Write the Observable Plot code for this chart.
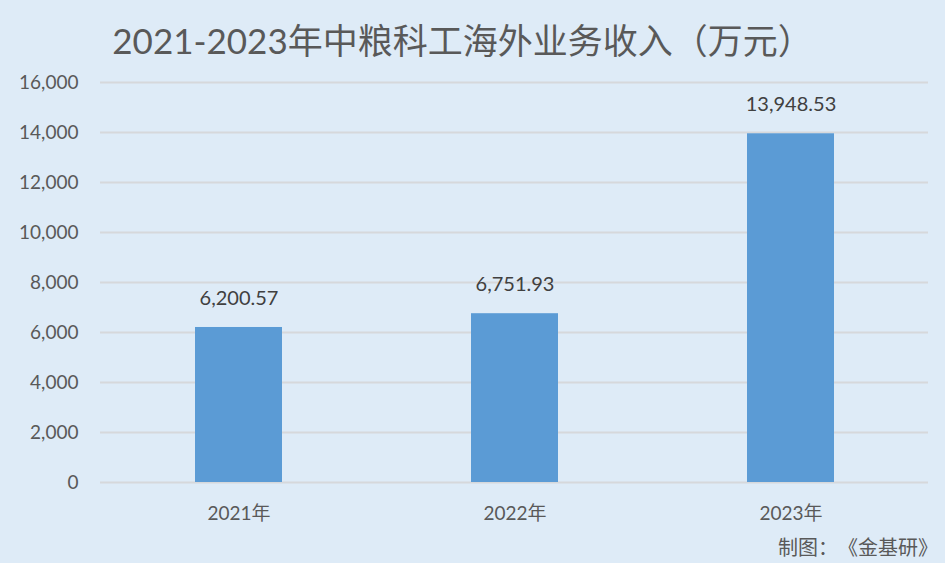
<!DOCTYPE html>
<html>
<head>
<meta charset="utf-8">
<script src="https://cdn.jsdelivr.net/npm/d3@7"></script>
<script src="https://cdn.jsdelivr.net/npm/@observablehq/plot@0.6"></script>
<style>
  html, body { margin: 0; padding: 0; background: #deebf7; }
  #chart {
    position: relative; width: 945px; height: 563px; background: #deebf7;
    font-family: Lato, "Noto Sans CJK SC", sans-serif; overflow: hidden;
    text-spacing-trim: space-all;
  }
  #title {
    height: 70px; line-height: 80px; text-align: center; padding-right: 20px;
    font-size: 35px; color: #595959; white-space: nowrap;
  }
  #plot { height: 460px; }
  #caption {
    height: 33px; text-align: right; padding-right: 7px;
    font-family: "Noto Sans CJK SC", sans-serif;
    font-size: 20px; color: #595959; line-height: 34px; white-space: nowrap;
  }
  svg { display: block; }
</style>
</head>
<body>
<div id="chart">
  <div id="title">2021-2023年中粮科工海外业务收入（万元）</div>
  <div id="plot"></div>
  <div id="caption">制图：《金基研》</div>
</div>
<script>
const years = ["2021年", "2022年", "2023年"];
const revenue = [6200.57, 6751.93, 13948.53];
const yTicks = [0, 2000, 4000, 6000, 8000, 10000, 12000, 14000, 16000];

const data = years.map((y, i) => ({year: y, value: revenue[i]}));
const fmtAxis = d3.format(",");
const fmtLabel = d3.format(",.2f");

const chart = Plot.plot({
  width: 945,
  height: 460,
  marginTop: 12,
  marginBottom: 48,
  marginLeft: 100,
  marginRight: 17,
  style: {
    background: "transparent",
    fontFamily: 'Lato, "Noto Sans CJK SC", sans-serif',
    color: "#595959"
  },
  x: {domain: years, paddingInner: 0.685, paddingOuter: 0.3425, label: null},
  y: {domain: [0, 16000], label: null},
  marks: [
    Plot.ruleY(yTicks, {stroke: "#d6d8db", strokeWidth: 2}),
    Plot.barY(data, {x: "year", y: "value", fill: "#5b9bd5"}),
    Plot.text(data, {
      x: "year", y: "value", text: d => fmtLabel(d.value),
      dy: -29, fontSize: 20, fill: "#404040"
    }),
    Plot.axisY(yTicks, {
      tickSize: 0, tickPadding: 22, tickFormat: fmtAxis,
      fontSize: 19, fill: "#595959", label: null
    }),
    Plot.axisX({
      tickSize: 0, tickPadding: 24, fontSize: 19, fill: "#595959", label: null
    })
  ]
});
document.getElementById("plot").appendChild(chart);
</script>
</body>
</html>
